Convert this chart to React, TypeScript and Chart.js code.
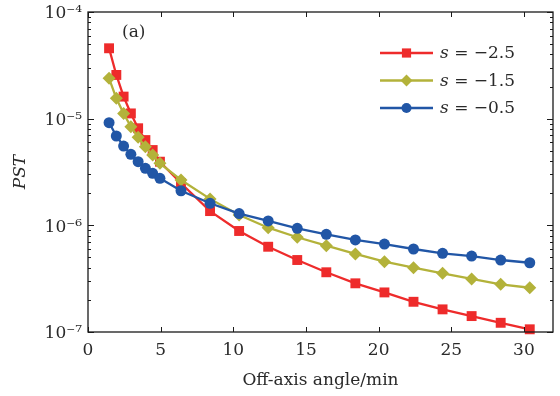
import React, { useEffect, useRef } from 'react';
import { Chart, registerables } from 'chart.js';
import { drawPoint } from 'chart.js/helpers';

Chart.register(...registerables);

// ---- data ----
const angles = [1.45, 1.95, 2.45, 2.95, 3.45, 3.95, 4.45, 4.95, 6.4, 8.4, 10.4, 12.4, 14.4, 16.4, 18.4, 20.4, 22.4, 24.4, 26.4, 28.4, 30.4];
const pstS25 = [4.57e-5, 2.57e-5, 1.61e-5, 1.12e-5, 8.13e-6, 6.3e-6, 5.08e-6, 3.95e-6, 2.48e-6, 1.36e-6, 8.85e-7, 6.3e-7, 4.73e-7, 3.63e-7, 2.86e-7, 2.35e-7, 1.92e-7, 1.63e-7, 1.41e-7, 1.22e-7, 1.06e-7];
const pstS15 = [2.39e-5, 1.55e-5, 1.12e-5, 8.41e-6, 6.68e-6, 5.46e-6, 4.56e-6, 3.81e-6, 2.66e-6, 1.77e-6, 1.25e-6, 9.5e-7, 7.73e-7, 6.45e-7, 5.39e-7, 4.56e-7, 4.01e-7, 3.55e-7, 3.14e-7, 2.8e-7, 2.6e-7];
const pstS05 = [9.18e-6, 6.88e-6, 5.54e-6, 4.63e-6, 3.95e-6, 3.42e-6, 3.07e-6, 2.76e-6, 2.11e-6, 1.61e-6, 1.29e-6, 1.1e-6, 9.38e-7, 8.24e-7, 7.29e-7, 6.68e-7, 6.0e-7, 5.47e-7, 5.15e-7, 4.73e-7, 4.46e-7];
const sValues = ['−2.5', '−1.5', '−0.5'];
const xTickValues = [0, 5, 10, 15, 20, 25, 30];
const yTickValues = [1e-7, 1e-6, 1e-5, 1e-4];
const yTickLabels = ['10⁻⁷', '10⁻⁶', '10⁻⁵', '10⁻⁴'];
const xTitle = 'Off-axis angle/min';
const yTitle = 'PST';
const panelLabel = '(a)';

const COLORS = ['#ee2b2b', '#b3b23a', '#2156a6'];
const STYLES = ['rect', 'rectRot', 'circle'];
const RADII = [7, 6.5, 5.5];
const SERIF = '"DejaVu Serif", "Liberation Serif", serif';
const TEXT = '#2a2a2a';
const FS = 17;

const framePlugin = {
  id: 'frame',
  afterDraw(chart: any) {
    const { ctx, chartArea: a, scales } = chart;
    const xs = scales.x;
    const ys = scales.y;
    ctx.save();
    ctx.strokeStyle = '#1a1a1a';
    ctx.lineWidth = 1.3;
    ctx.strokeRect(a.left, a.top, a.right - a.left, a.bottom - a.top);
    ctx.lineWidth = 1;
    ctx.beginPath();
    for (const v of xTickValues) {
      const px = Math.round(xs.getPixelForValue(v)) + 0.5;
      ctx.moveTo(px, a.bottom);
      ctx.lineTo(px, a.bottom - 5);
      ctx.moveTo(px, a.top);
      ctx.lineTo(px, a.top + 5);
    }
    for (let d = 0; d < yTickValues.length; d++) {
      const dec = yTickValues[d];
      const py = Math.round(ys.getPixelForValue(dec)) + 0.5;
      ctx.moveTo(a.left, py);
      ctx.lineTo(a.left + 6, py);
      ctx.moveTo(a.right, py);
      ctx.lineTo(a.right - 6, py);
      if (d < yTickValues.length - 1) {
        for (let k = 2; k <= 9; k++) {
          const my = Math.round(ys.getPixelForValue(dec * k)) + 0.5;
          ctx.moveTo(a.left, my);
          ctx.lineTo(a.left + 3, my);
          ctx.moveTo(a.right, my);
          ctx.lineTo(a.right - 3, my);
        }
      }
    }
    ctx.stroke();

    // panel label
    ctx.fillStyle = TEXT;
    ctx.font = `${FS}px ${SERIF}`;
    ctx.textAlign = 'left';
    ctx.textBaseline = 'middle';
    ctx.fillText(panelLabel, a.left + 34, a.top + 21);

    // legend
    const lx0 = a.right - 173;
    const lx1 = a.right - 120;
    const ty0 = a.top + 41;
    const dy = 27.5;
    chart.data.datasets.forEach((ds: any, i: number) => {
      const y = ty0 + i * dy;
      ctx.strokeStyle = ds.borderColor;
      ctx.lineWidth = 2.3;
      ctx.beginPath();
      ctx.moveTo(lx0, y);
      ctx.lineTo(lx1, y);
      ctx.stroke();
      ctx.fillStyle = ds.backgroundColor;
      drawPoint(ctx, { pointStyle: ds.pointStyle, radius: ds.pointRadius - 0.5, borderWidth: 0, rotation: 0 }, (lx0 + lx1) / 2, y);
      ctx.fillStyle = TEXT;
      ctx.font = `italic ${FS}px ${SERIF}`;
      ctx.textBaseline = 'middle';
      const tx = lx1 + 7;
      ctx.fillText('s', tx, y + 1);
      const w = ctx.measureText('s').width;
      ctx.font = `${FS}px ${SERIF}`;
      ctx.fillText(' = ' + sValues[i], tx + w, y + 1);
    });
    ctx.restore();
  },
};

export default function App() {
  const ref = useRef<HTMLCanvasElement>(null);
  useEffect(() => {
    document.body.style.margin = '0';
    const seriesData = [pstS25, pstS15, pstS05];
    const chart = new Chart(ref.current as HTMLCanvasElement, {
      type: 'line',
      data: {
        datasets: seriesData.map((vals, i) => ({
          label: 's = ' + sValues[i],
          data: angles.map((x, j) => ({ x, y: vals[j] })),
          borderColor: COLORS[i],
          backgroundColor: COLORS[i],
          pointBackgroundColor: COLORS[i],
          pointBorderWidth: 0,
          pointStyle: STYLES[i],
          pointRadius: RADII[i],
          borderWidth: 2.3,
          tension: 0,
          clip: false as any,
          order: 3 - i,
        })),
      },
      options: {
        responsive: false,
        animation: false,
        layout: { padding: { top: 12, right: 7, left: 0, bottom: 0 } },
        plugins: { legend: { display: false }, tooltip: { enabled: false } },
        scales: {
          x: {
            type: 'linear',
            min: 0,
            max: 32,
            afterBuildTicks: (s: any) => { s.ticks = xTickValues.map((v) => ({ value: v })); },
            afterFit: (s: any) => { s.height = 64; s.paddingLeft = 0; s.paddingRight = 0; },
            grid: { display: false, drawTicks: false },
            border: { display: false },
            ticks: { color: TEXT, font: { family: SERIF, size: FS }, padding: 8, maxRotation: 0 },
            title: { display: true, text: xTitle, color: TEXT, font: { family: SERIF, size: FS }, padding: { top: 0, bottom: 5 } },
          },
          y: {
            type: 'logarithmic',
            min: 1e-7,
            max: 1e-4,
            afterBuildTicks: (s: any) => { s.ticks = yTickValues.map((v) => ({ value: v })); },
            afterFit: (s: any) => { s.width = 88; s.paddingTop = 0; s.paddingBottom = 0; },
            grid: { display: false, drawTicks: false },
            border: { display: false },
            ticks: {
              color: TEXT,
              font: { family: SERIF, size: FS },
              padding: 6,
              labelOffset: 2,
              callback: (v: any) => {
                const idx = yTickValues.findIndex((t) => Math.abs(Math.log10(t) - Math.log10(v)) < 1e-6);
                return idx >= 0 ? yTickLabels[idx] : '';
              },
            },
            title: { display: true, text: yTitle, color: TEXT, font: { family: SERIF, size: FS, style: 'italic' }, padding: { top: 10, bottom: 0 } },
          },
        },
      },
      plugins: [framePlugin],
    });
    return () => chart.destroy();
  }, []);
  return <canvas ref={ref} width={560} height={396} style={{ display: 'block' }} />;
}
